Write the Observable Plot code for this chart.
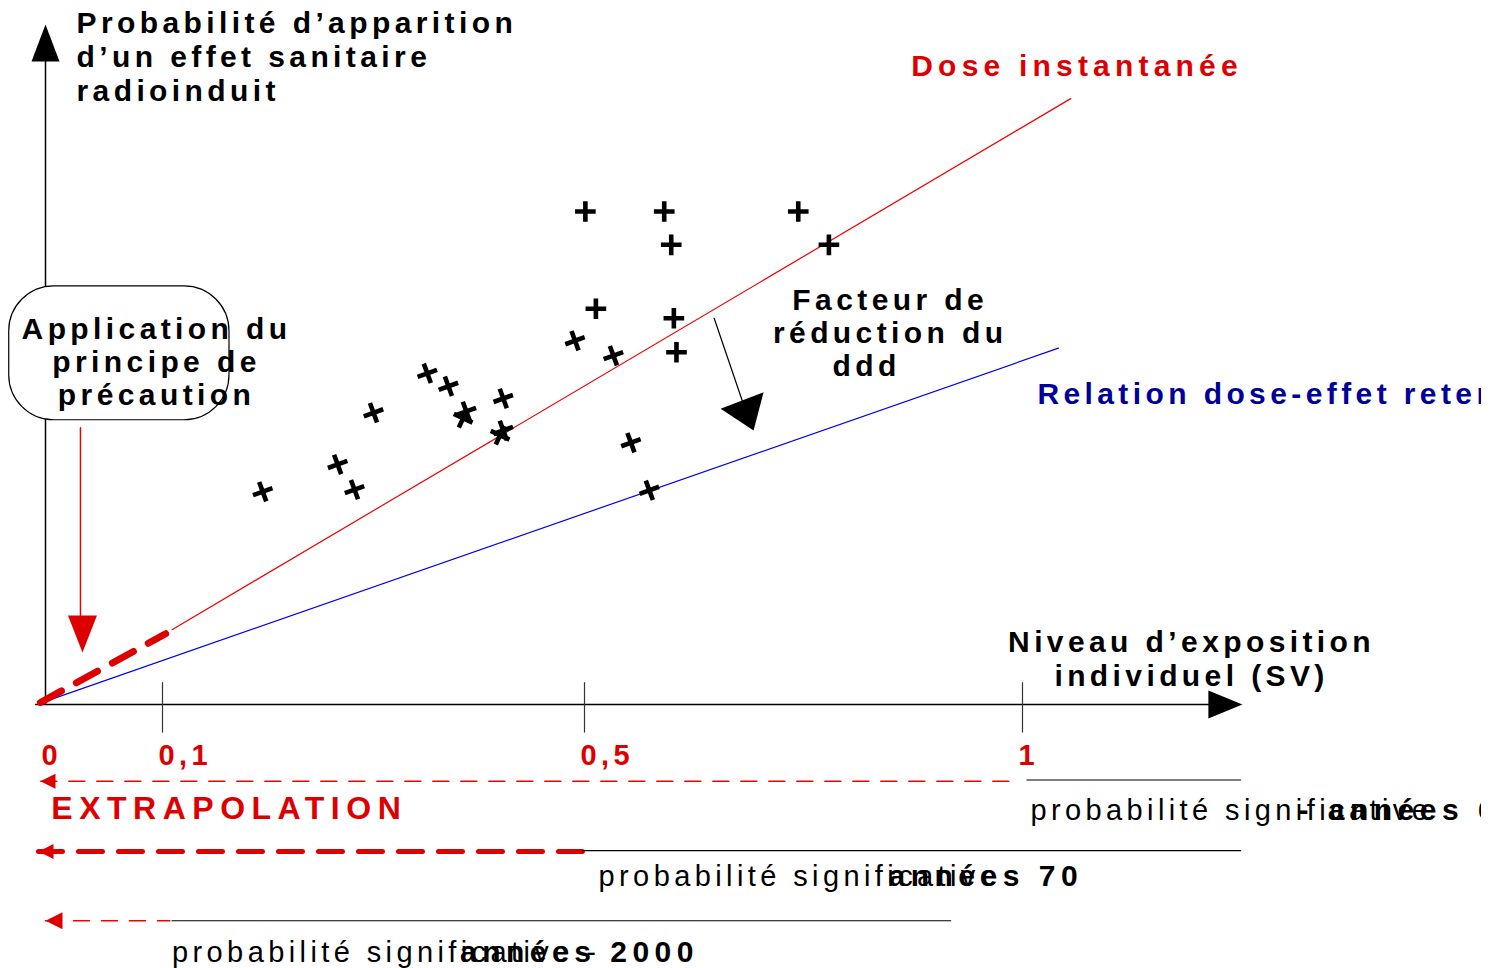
<!DOCTYPE html>
<html><head><meta charset="utf-8">
<script src="https://cdn.jsdelivr.net/npm/d3@7"></script>
<script src="https://cdn.jsdelivr.net/npm/@observablehq/plot@0.6"></script>
<style>
html,body{margin:0;padding:0;background:#fff;}
#chart svg{display:block;overflow:hidden;}
#chart svg text{letter-spacing:4.4px;}
</style></head><body><div id="chart"></div>
<script>
// ---------- data (x: niveau d'exposition, y: probabilité) ----------
const axisTicks = [0, 0.1, 0.5, 1];
const tickLabels = ["0", "0,1", "0,5", "1"];

const crossesTilted = [
  {x: 0.195, y: 0.313}, {x: 0.266, y: 0.353}, {x: 0.282, y: 0.316},
  {x: 0.300, y: 0.429}, {x: 0.351, y: 0.487}, {x: 0.371, y: 0.468},
  {x: 0.388, y: 0.431}, {x: 0.423, y: 0.450}, {x: 0.423, y: 0.403},
  {x: 0.491, y: 0.535}, {x: 0.533, y: 0.513}, {x: 0.553, y: 0.385},
  {x: 0.574, y: 0.315}
];
const crossesUpright = [
  {x: 0.501, y: 0.725}, {x: 0.591, y: 0.725}, {x: 0.744, y: 0.725},
  {x: 0.599, y: 0.676}, {x: 0.779, y: 0.676}, {x: 0.513, y: 0.582},
  {x: 0.602, y: 0.568}, {x: 0.605, y: 0.518}
];
const crossesTwisted = [{x: 0.385, y: 0.421}, {x: 0.420, y: 0.396}];

const doseInstantanee = [{x: 0.109, y: 0.110}, {x: 1.055, y: 0.891}];
const doseExtrapolee = [{x: -0.0043, y: 0.003}, {x: 0.103, y: 0.104}];
const relationRetenue = [{x: -0.0043, y: 0.002}, {x: 1.041, y: 0.524}];

const xAxisLine = [{x: -0.0085, y: 0}, {x: 1.215, y: 0}];
const yAxisLine = [{x: 0, y: 0}, {x: 0, y: 0.946}];

const periods = ["- années 60", "années 70", "années 2000"];
const rowTexts = ["probabilité significative", "probabilité significative", "probabilité significative -"];
const extrapRow1 = [{x: -0.004, y: -0.113}, {x: 0.998, y: -0.113}];
const signifRow1 = [{x: 1.005, y: -0.111}, {x: 1.249, y: -0.111}];
const extrapRow2 = [{x: -0.006, y: -0.216}, {x: 0.498, y: -0.216}];
const signifRow2 = [{x: 0.498, y: -0.215}, {x: 1.249, y: -0.215}];
const extrapRow3 = [{x: 0.0, y: -0.318}, {x: 0.107, y: -0.318}];
const signifRow3 = [{x: 0.109, y: -0.318}, {x: 0.918, y: -0.318}];

const precautionArrow = [{x: 0.0299, y: 0.407}, {x: 0.0299, y: 0.131}];
const reductionArrow = [{x: 0.648, y: 0.568}, {x: 0.680, y: 0.447}];

// ---------- helpers ----------
const tri = (L, W) => ({draw(ctx) { ctx.moveTo(0, 0); ctx.lineTo(-W / 2, L); ctx.lineTo(W / 2, L); ctx.closePath(); }});
const head = (x, y, L, W, rot, fill) => Plot.dot([{x, y}], {x: "x", y: "y", r: 5, symbol: tri(L, W), rotate: rot, fill, stroke: "none"});
const label = (s, x, y, o = {}) => Plot.text([s], {x: () => x, y: () => y, text: d => d, fontSize: 30, fontWeight: "bold", fill: "black", ...o});
const seg = (d, o) => Plot.line(d, {x: "x", y: "y", ...o});

const RED = "#dd0000";

const chart = Plot.plot({
  width: 1481, height: 968, margin: 0,
  x: {type: "linear", domain: [0, 0.1, 0.5, 1], range: [45, 162, 584, 1022], axis: null},
  y: {type: "linear", domain: [0, 1], range: [704, 24], axis: null},
  style: {fontFamily: "'Liberation Sans', Arial, sans-serif", background: "white", overflow: "hidden"},
  marks: [
    // axes
    seg(yAxisLine, {stroke: "black", strokeWidth: 1.5}),
    seg(xAxisLine, {stroke: "black", strokeWidth: 1.5}),
    head(0, 1.0, 37, 28, 0, "black"),
    head(1.251, 0, 34, 28, 90, "black"),
    Plot.ruleX(axisTicks.slice(1), {x: d => d, y1: 0.032, y2: -0.042, stroke: "#333", strokeWidth: 1.2}),
    Plot.text(axisTicks, {x: d => d, y: () => -0.076, text: (d, i) => tickLabels[i], textAnchor: "start", dx: -4,
      fill: RED, fontWeight: "bold", fontSize: 29}),

    // relations dose-effet
    seg(relationRetenue, {stroke: "#0000ee", strokeWidth: 1.2}),
    seg(doseInstantanee, {stroke: "#ee0000", strokeWidth: 1.2}),
    seg(doseExtrapolee, {stroke: RED, strokeWidth: 7, strokeDasharray: "24,17"}),

    // observations
    Plot.dot(crossesUpright, {x: "x", y: "y", symbol: "plus", r: 6.7, stroke: "black", strokeWidth: 4.6}),
    Plot.dot(crossesTilted, {x: "x", y: "y", symbol: "plus", r: 6.7, rotate: -20, stroke: "black", strokeWidth: 4.6}),
    Plot.dot(crossesTwisted, {x: "x", y: "y", symbol: "plus", r: 6.7, rotate: 25, stroke: "black", strokeWidth: 4.6}),

    // principe de précaution
    Plot.rect([0], {x1: () => -0.031, x2: () => 0.1635, y1: () => 0.418, y2: () => 0.615, rx: 45, fill: "white", stroke: "black", strokeWidth: 1.2}),
    label("Application du\nprincipe de\nprécaution", 0.0949, 0.504, {lineHeight: 1.1, textAnchor: "middle"}),
    seg(precautionArrow, {stroke: "#ee0000", strokeWidth: 1.5}),
    head(0.0316, 0.0765, 37, 29, 180, RED),

    // facteur de réduction
    seg(reductionArrow, {stroke: "black", strokeWidth: 1.2}),
    head(0.693, 0.403, 32, 46, 159, "black"),
    label("Facteur de\nréduction du", 0.849, 0.571, {lineHeight: 1.1, textAnchor: "middle"}),
    label("ddd", 0.822, 0.497, {textAnchor: "middle"}),

    // titles
    label("Probabilité d’apparition\nd’un effet sanitaire\nradioinduit", 0.0265, 0.953, {lineHeight: 1.133, textAnchor: "start"}),
    label("Dose instantanée", 0.873, 0.938, {textAnchor: "start", fill: RED}),
    label("Relation dose-effet retenue", 1.017, 0.456, {textAnchor: "start", fill: "#000099"}),
    label("Niveau d’exposition\nindividuel (SV)", 1.193, 0.0676, {lineHeight: 1.133, textAnchor: "middle"}),

    // extrapolation rows
    seg(extrapRow1, {stroke: "#ee0000", strokeWidth: 1.5, strokeDasharray: "16,12"}),
    seg(signifRow1, {stroke: "black", strokeWidth: 1.2}),
    head(-0.0043, -0.113, 15, 15, -90, RED),
    label("EXTRAPOLATION", 0.005, -0.154, {textAnchor: "start", fill: RED, fontSize: 32}),
    seg(extrapRow2, {stroke: RED, strokeWidth: 5, strokeDasharray: "24,16"}),
    seg(signifRow2, {stroke: "black", strokeWidth: 1.2}),
    head(-0.006, -0.216, 15, 15, -90, RED),
    seg(extrapRow3, {stroke: "#ee0000", strokeWidth: 1.5, strokeDasharray: "16,12"}),
    seg(signifRow3, {stroke: "black", strokeWidth: 1.2}),
    head(0.0, -0.318, 17, 17, -90, RED),

    label(rowTexts[0], 1.009, -0.156, {textAnchor: "start", fontWeight: "normal", fontSize: 29}),
    label(periods[0], 1.315, -0.156, {textAnchor: "start"}),
    label(rowTexts[1], 0.516, -0.253, {textAnchor: "start", fontWeight: "normal", fontSize: 29}),
    label(periods[1], 0.847, -0.253, {textAnchor: "start"}),
    label(rowTexts[2], 0.109, -0.365, {textAnchor: "start", fontWeight: "normal", fontSize: 29}),
    label(periods[2], 0.382, -0.365, {textAnchor: "start"})
  ]
});

// per-text letter spacing tweaks
const spacing = {"Dose instantanée": "5.2px", "EXTRAPOLATION": "6.5px"};
periods.forEach(p => spacing[p] = "5.5px");
d3.select(chart).selectAll("text").each(function () {
  const s = spacing[this.textContent];
  if (s) this.style.letterSpacing = s;
});
document.getElementById("chart").appendChild(chart);
</script></body></html>
